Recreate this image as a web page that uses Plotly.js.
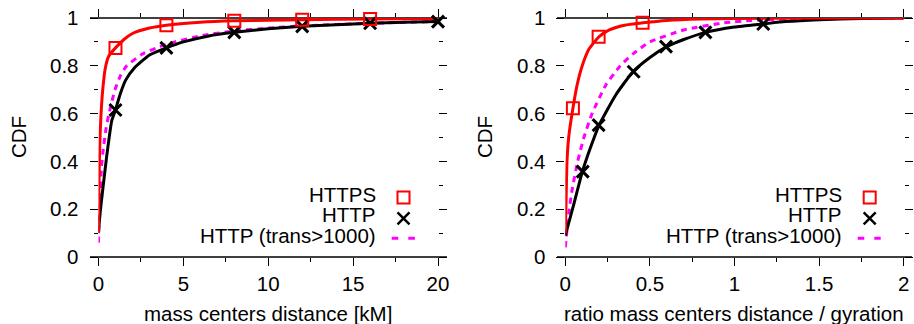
<!DOCTYPE html>
<html>
<head>
<meta charset="utf-8">
<script src="https://cdn.plot.ly/plotly-3.0.1.min.js"></script>
<style>html,body{margin:0;padding:0;background:#fff;}#chart{width:914px;height:324px;}</style>
</head>
<body>
<div id="chart"></div>
<script>
// ---- Left panel: mass centers distance [kM] ----
const leftHttpsX = [0, 0.02, 0.05, 0.1, 0.15, 0.25, 0.4, 0.6, 1, 1.5, 2, 3, 4, 6, 8, 12, 16, 20];
const leftHttpsY = [0.1, 0.25, 0.4, 0.52, 0.6, 0.7, 0.79, 0.84, 0.875, 0.91, 0.935, 0.958, 0.97, 0.982, 0.988, 0.993, 0.996, 0.998];
const leftHttpX = [0, 0.05, 0.15, 0.28, 0.48, 0.78, 1, 1.27, 1.6, 2.1, 3, 4, 5, 6.5, 8, 10, 12, 14, 16, 18, 20];
const leftHttpY = [0.1, 0.15, 0.22, 0.3, 0.42, 0.57, 0.615, 0.68, 0.74, 0.79, 0.845, 0.875, 0.9, 0.925, 0.94, 0.955, 0.965, 0.972, 0.978, 0.982, 0.985];
const leftTransX = [0, 0.03, 0.08, 0.18, 0.28, 0.45, 0.62, 0.97, 1.3, 1.66, 2.6, 3.6, 4.5, 6, 8, 10, 12, 16, 20];
const leftTransY = [0.06, 0.15, 0.22, 0.38, 0.45, 0.54, 0.6, 0.7, 0.76, 0.8, 0.85, 0.88, 0.9, 0.925, 0.946, 0.958, 0.967, 0.978, 0.985];
const leftHttpsMarkX = [1, 4, 8, 12, 16];
const leftHttpsMarkY = [0.875, 0.97, 0.988, 0.993, 0.996];
const leftHttpMarkX = [1, 4, 8, 12, 16, 20];
const leftHttpMarkY = [0.615, 0.875, 0.94, 0.965, 0.978, 0.985];

// ---- Right panel: ratio mass centers distance / gyration ----
const rightHttpsX = [0, 0.005, 0.01, 0.02, 0.04, 0.07, 0.1, 0.14, 0.2, 0.26, 0.35, 0.46, 0.6, 0.8, 1, 1.5, 2];
const rightHttpsY = [0.1, 0.25, 0.4, 0.5, 0.6, 0.72, 0.8, 0.87, 0.922, 0.95, 0.97, 0.98, 0.99, 0.996, 0.998, 1, 1];
const rightHttpX = [0, 0.05, 0.1, 0.15, 0.2, 0.3, 0.4, 0.5, 0.6, 0.7, 0.83, 1, 1.17, 1.3, 1.5, 1.75, 2];
const rightHttpY = [0.09, 0.22, 0.355, 0.46, 0.552, 0.68, 0.775, 0.835, 0.88, 0.91, 0.94, 0.962, 0.975, 0.985, 0.993, 0.998, 1];
const rightTransX = [0, 0.02, 0.04, 0.073, 0.11, 0.158, 0.24, 0.325, 0.4, 0.5, 0.7, 0.94, 1.1, 1.4, 2];
const rightTransY = [0.04, 0.18, 0.28, 0.4, 0.5, 0.6, 0.72, 0.8, 0.85, 0.9, 0.95, 0.98, 0.99, 0.998, 1];
const rightHttpsMarkX = [0.045, 0.197, 0.457];
const rightHttpsMarkY = [0.622, 0.922, 0.98];
const rightHttpMarkX = [0.103, 0.197, 0.404, 0.595, 0.828, 1.17];
const rightHttpMarkY = [0.357, 0.552, 0.775, 0.88, 0.94, 0.975];

const legendLabels = ['HTTPS', 'HTTP', 'HTTP (trans>1000)'];
const xTitles = ['mass centers distance [kM]', 'ratio mass centers distance / gyration'];
const yTitle = 'CDF';

const W = 914, H = 324;
const px = v => v / W;
const py = v => (H - v) / H;

const RED = '#ff0000', BLACK = '#000000', MAG = '#ff00ff';
const FONT = {family: 'Liberation Sans, Arial, Helvetica, sans-serif', size: 20.5, color: '#000'};

function lineTrace(x, y, color, xa, ya, dash) {
  return {x: x, y: y, xaxis: xa, yaxis: ya, type: 'scatter', mode: 'lines',
    line: {color: color, width: 3, dash: dash || 'solid', shape: 'spline', smoothing: 0.5},
    showlegend: false, hoverinfo: 'skip', cliponaxis: false};
}
function markTrace(x, y, color, symbol, lw, xa, ya) {
  return {x: x, y: y, xaxis: xa, yaxis: ya, type: 'scatter', mode: 'markers',
    marker: {symbol: symbol, size: 12, color: color, line: {color: color, width: lw}},
    showlegend: false, hoverinfo: 'skip', cliponaxis: false};
}
// empty placeholder trace so the label-only overlay axis gets drawn
function emptyTrace(xa, ya) {
  return {x: [], y: [], xaxis: xa, yaxis: ya, type: 'scatter', mode: 'lines', showlegend: false, hoverinfo: 'skip'};
}

const traces = [
  lineTrace(leftTransX, leftTransY, MAG, 'x', 'y', '6px,5px'),
  lineTrace(leftHttpX, leftHttpY, BLACK, 'x', 'y'),
  lineTrace(leftHttpsX, leftHttpsY, RED, 'x', 'y'),
  markTrace(leftHttpMarkX, leftHttpMarkY, BLACK, 'x-thin-open', 3, 'x', 'y'),
  markTrace(leftHttpsMarkX, leftHttpsMarkY, RED, 'square-open', 2, 'x', 'y'),
  lineTrace(rightTransX, rightTransY, MAG, 'x2', 'y2', '6px,5px'),
  lineTrace(rightHttpX, rightHttpY, BLACK, 'x2', 'y2'),
  lineTrace(rightHttpsX, rightHttpsY, RED, 'x2', 'y2'),
  markTrace(rightHttpMarkX, rightHttpMarkY, BLACK, 'x-thin-open', 3, 'x2', 'y2'),
  markTrace(rightHttpsMarkX, rightHttpsMarkY, RED, 'square-open', 2, 'x2', 'y2'),
  emptyTrace('x', 'y3'),
  emptyTrace('x2', 'y4')
];

const yDom = [py(257), py(18)];
function xAxis(dom, range, dtick, mdtick, anchor) {
  return {domain: dom, range: range, anchor: anchor, tickmode: 'linear', tick0: 0, dtick: dtick,
    ticks: 'outside', ticklen: 8, tickwidth: 1, tickcolor: '#000', mirror: 'ticks',
    showline: false, zeroline: false, showgrid: false, tickfont: FONT, fixedrange: true,
    minor: {dtick: mdtick, tick0: 0, ticks: 'outside', ticklen: 4, tickwidth: 1, tickcolor: '#000', showgrid: false}};
}
function yAxis(anchor) {
  return {domain: yDom, range: [0, 1], anchor: anchor, tickmode: 'linear', tick0: 0, dtick: 0.2,
    ticks: 'outside', ticklen: 8, tickwidth: 1, tickcolor: '#000', mirror: 'ticks', showticklabels: false,
    showline: false, zeroline: false, showgrid: false, tickfont: FONT, fixedrange: true,
    minor: {dtick: 0.1, tick0: 0, ticks: 'outside', ticklen: 4, tickwidth: 1, tickcolor: '#000', showgrid: false}};
}
// label-only overlay axes so the tick labels sit where the reference puts them
function yLabelAxis(over, posPx) {
  return {domain: yDom, range: [0, 1], overlaying: over, anchor: 'free', position: px(posPx), side: 'left',
    tickmode: 'linear', tick0: 0, dtick: 0.2, ticks: '', showticklabels: true,
    showline: false, zeroline: false, showgrid: false, tickfont: FONT, fixedrange: true};
}

const shapes = [];
function hline(x0, x1, y) {
  shapes.push({type: 'line', xref: 'paper', yref: 'paper', x0: px(x0), x1: px(x1), y0: py(y), y1: py(y),
    line: {color: '#000', width: 1.5}, layer: 'below'});
}
hline(90, 447, 257); hline(90, 447, 18);
hline(557, 912, 257); hline(557, 912, 18);

const annotations = [];
function legendBlock(textRight, symX, dashX0, dashX1) {
  const rowsText = [194.5, 214.5, 235];
  legendLabels.forEach((t, i) => {
    annotations.push({text: t, xref: 'paper', yref: 'paper', x: px(textRight), y: py(rowsText[i]),
      xanchor: 'right', yanchor: 'middle', showarrow: false, font: FONT});
  });
  // square key
  shapes.push({type: 'rect', xref: 'paper', yref: 'paper', x0: px(symX - 6), x1: px(symX + 6),
    y0: py(197.4 + 6), y1: py(197.4 - 6), line: {color: RED, width: 2}});
  // X key
  shapes.push({type: 'line', xref: 'paper', yref: 'paper', x0: px(symX - 6), x1: px(symX + 6),
    y0: py(218.3 - 6), y1: py(218.3 + 6), line: {color: BLACK, width: 2.5}});
  shapes.push({type: 'line', xref: 'paper', yref: 'paper', x0: px(symX - 6), x1: px(symX + 6),
    y0: py(218.3 + 6), y1: py(218.3 - 6), line: {color: BLACK, width: 2.5}});
  // dashed key
  shapes.push({type: 'line', xref: 'paper', yref: 'paper', x0: px(dashX0), x1: px(dashX1),
    y0: py(238.3), y1: py(238.3), line: {color: MAG, width: 3, dash: '6.6px,10px'}});
}
legendBlock(377.7, 403.5, 391.7, 415);
legendBlock(844.3, 869.7, 857.7, 880.7);

// axis titles
annotations.push({text: xTitles[0], xref: 'paper', yref: 'paper', x: px(268), y: py(313), xanchor: 'center', yanchor: 'middle', showarrow: false, font: FONT});
annotations.push({text: xTitles[1], xref: 'paper', yref: 'paper', x: px(734), y: py(313), xanchor: 'center', yanchor: 'middle', showarrow: false, font: FONT});
annotations.push({text: yTitle, xref: 'paper', yref: 'paper', x: px(18.5), y: py(137.5), xanchor: 'center', yanchor: 'middle', textangle: -90, showarrow: false, font: FONT});
annotations.push({text: yTitle, xref: 'paper', yref: 'paper', x: px(484.5), y: py(137.5), xanchor: 'center', yanchor: 'middle', textangle: -90, showarrow: false, font: FONT});

const layout = {
  width: W, height: H, margin: {l: 0, r: 0, t: 0, b: 0, pad: 0},
  paper_bgcolor: '#fff', plot_bgcolor: 'rgba(0,0,0,0)', font: FONT, showlegend: false,
  xaxis: xAxis([px(98.5), px(438)], [0, 20], 5, 2.5, 'y'),
  yaxis: yAxis('x'),
  xaxis2: xAxis([px(565.3), px(903.7)], [0, 2], 0.5, 0.25, 'y2'),
  yaxis2: yAxis('x2'),
  yaxis3: yLabelAxis('y', 78.5),
  yaxis4: yLabelAxis('y2', 545.5),
  shapes: shapes, annotations: annotations
};

Plotly.newPlot('chart', traces, layout, {staticPlot: true, displayModeBar: false});
</script>
</body>
</html>
